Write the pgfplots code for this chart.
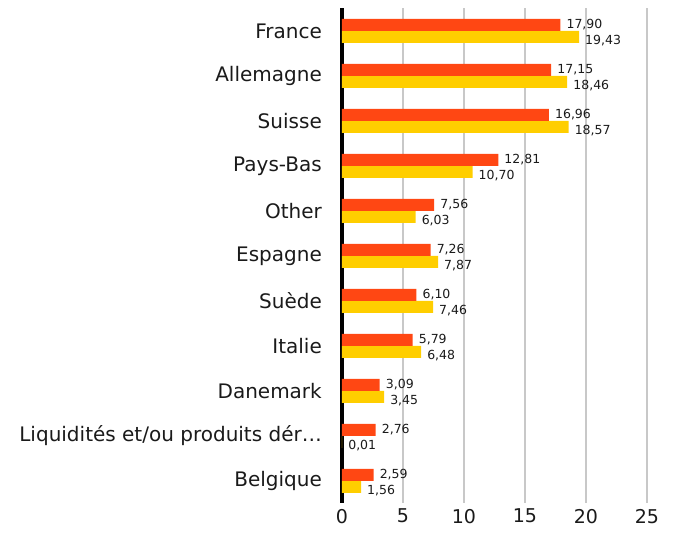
\documentclass[border=0pt]{standalone}
\usepackage{pgfplots}
\pgfplotsset{compat=1.18}
\usepackage{fontspec}
\setmainfont{DejaVu Sans}
\definecolor{cred}{HTML}{FF4713}
\definecolor{cyel}{HTML}{FFCE00}
\definecolor{cgrid}{HTML}{C8C8C8}
\definecolor{ctext}{HTML}{1A1A1A}
\begin{document}
\begin{tikzpicture}[x=1pt,y=1pt]
\path (0,0) rectangle (673,534);
\begin{axis}[
  at={(342pt,30.5pt)}, anchor=south west,
  scale only axis, width=305pt, height=495pt,
  xbar, bar width=12pt,
  y dir=reverse,
  xmin=0, xmax=25, ymin=-0.5, ymax=10.5,
  xtick={0,5,10,15,20,25},
  ytick={0,...,10},
  yticklabels={France,Allemagne,Suisse,Pays-Bas,Other,Espagne,Suède,Italie,Danemark,{Liquidités et/ou produits dér…},Belgique},
  major tick length=0pt,
  axis line style={draw=none},
  xmajorgrids, grid style={cgrid, line width=2pt},
  extra x ticks={0}, extra x tick labels={},
  extra x tick style={grid style={black, line width=3.5pt}},
  /pgf/number format/assume math mode=true,
  xticklabel style={font=\fontsize{19}{21}\selectfont, yshift=-2pt, text=ctext},
  yticklabel style={font=\fontsize{20}{22}\selectfont, anchor=east, inner sep=0pt, xshift=-20pt, text=ctext},
  nodes near coords={\pgfmathprintnumber[fixed, fixed zerofill, precision=2, use comma]{\pgfplotspointmeta}},
  nodes near coords style={font=\fontsize{12.5}{14}\selectfont, anchor=west, inner sep=0pt, xshift=6pt, text=ctext},
  every axis plot/.append style={draw=none},
  clip=false,
]
\addplot[fill=cyel, bar shift=-6pt, nodes near coords style={yshift=-4pt}] coordinates {
(19.43,0) (18.46,1) (18.57,2) (10.70,3) (6.03,4) (7.87,5) (7.46,6) (6.48,7) (3.45,8) (0.01,9) (1.56,10)};
\addplot[fill=cred, bar shift=6pt, nodes near coords style={yshift=0pt}] coordinates {
(17.90,0) (17.15,1) (16.96,2) (12.81,3) (7.56,4) (7.26,5) (6.10,6) (5.79,7) (3.09,8) (2.76,9) (2.59,10)};
\end{axis}
\end{tikzpicture}
\end{document}
